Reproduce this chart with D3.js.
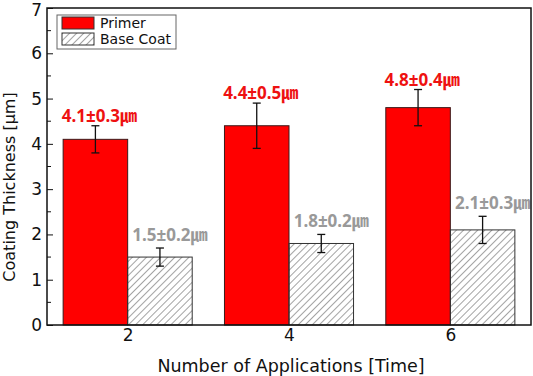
<!DOCTYPE html>
<html>
<head>
<meta charset="utf-8">
<script src="https://cdn.jsdelivr.net/npm/d3@7"></script>
<style>
  body { margin: 0; background: #fff; }
  svg { display: block; }
</style>
</head>
<body>
<svg id="chart" width="533" height="376"></svg>
<script>
// data
const applications = [2, 4, 6];
const primerValues = [4.1, 4.4, 4.8];
const primerErrors = [0.3, 0.5, 0.4];
const baseValues = [1.5, 1.8, 2.1];
const baseErrors = [0.2, 0.2, 0.3];
const yTicks = [0, 1, 2, 3, 4, 5, 6, 7];
const seriesNames = ["Primer", "Base Coat"];

const svg = d3.select("#chart");
const plotLeft = 47, plotRight = 531, plotTop = 8, plotBottom = 325;

const x = d3.scaleLinear().domain([1, 7]).range([plotLeft, plotRight]);
const y = d3.scaleLinear().domain([0, 7]).range([plotBottom, plotTop]);
const barW = x(0.8) - x(0);

// hatch pattern
const defs = svg.append("defs");
defs.append("pattern")
  .attr("id", "hatch")
  .attr("patternUnits", "userSpaceOnUse")
  .attr("width", 5)
  .attr("height", 5)
  .attr("patternTransform", "rotate(45)")
  .append("line")
  .attr("x1", 0).attr("y1", 0)
  .attr("x2", 0).attr("y2", 5)
  .attr("stroke", "#333")
  .attr("stroke-width", 0.9);

const fontMain = "'DejaVu Sans', sans-serif";
const fontLabel = "'Noto Sans', 'Noto Sans CJK KR', sans-serif";

const primer = applications.map((a, i) => ({ a: a, v: primerValues[i], e: primerErrors[i] }));
const base = applications.map((a, i) => ({ a: a, v: baseValues[i], e: baseErrors[i] }));

// primer bars
svg.selectAll(".barPrimer").data(primer).enter()
  .append("rect")
  .attr("class", "barPrimer")
  .attr("x", d => x(d.a) - barW)
  .attr("y", d => y(d.v))
  .attr("width", barW)
  .attr("height", d => y(0) - y(d.v))
  .attr("fill", "#ff0000")
  .attr("stroke", "#3a1a1a")
  .attr("stroke-width", 1);

// base coat bars
svg.selectAll(".barBase").data(base).enter()
  .append("rect")
  .attr("class", "barBase")
  .attr("x", d => x(d.a))
  .attr("y", d => y(d.v))
  .attr("width", barW)
  .attr("height", d => y(0) - y(d.v))
  .attr("fill", "url(#hatch)")
  .attr("stroke", "#333")
  .attr("stroke-width", 1);

// error bars
function errorBars(data, cx, cls) {
  const g = svg.selectAll("." + cls).data(data).enter()
    .append("g").attr("class", cls)
    .attr("stroke", "#111").attr("stroke-width", 1.3);
  g.append("line")
    .attr("x1", cx).attr("x2", cx)
    .attr("y1", d => y(d.v - d.e)).attr("y2", d => y(d.v + d.e));
  g.append("line")
    .attr("x1", d => cx(d) - 4).attr("x2", d => cx(d) + 4)
    .attr("y1", d => y(d.v + d.e)).attr("y2", d => y(d.v + d.e));
  g.append("line")
    .attr("x1", d => cx(d) - 4).attr("x2", d => cx(d) + 4)
    .attr("y1", d => y(d.v - d.e)).attr("y2", d => y(d.v - d.e));
}
errorBars(primer, d => x(d.a) - barW / 2, "errPrimer");
errorBars(base, d => x(d.a) + barW / 2, "errBase");

// value labels
svg.selectAll(".lblPrimer").data(primer).enter()
  .append("text")
  .attr("class", "lblPrimer")
  .attr("x", d => x(d.a) - barW / 2 + 4)
  .attr("y", d => y(d.v + d.e) - 4)
  .attr("text-anchor", "middle")
  .attr("font-family", fontLabel)
  .attr("font-weight", "bold")
  .attr("font-size", "17px")
  .attr("fill", "#ee1111")
  .text(d => d.v.toFixed(1) + "±" + d.e.toFixed(1) + "㎛");

svg.selectAll(".lblBase").data(base).enter()
  .append("text")
  .attr("class", "lblBase")
  .attr("x", d => x(d.a) + barW / 2 + 10)
  .attr("y", d => y(d.v + d.e) - 7)
  .attr("text-anchor", "middle")
  .attr("font-family", fontLabel)
  .attr("font-weight", "bold")
  .attr("font-size", "17px")
  .attr("fill", "#999999")
  .text(d => d.v.toFixed(1) + "±" + d.e.toFixed(1) + "㎛");

// frame
svg.append("rect")
  .attr("x", plotLeft).attr("y", plotTop)
  .attr("width", plotRight - plotLeft).attr("height", plotBottom - plotTop)
  .attr("fill", "none")
  .attr("stroke", "#111")
  .attr("stroke-width", 1.5);

// y axis (ticks inward)
const yAxis = d3.axisLeft(y).tickValues(yTicks).tickSize(-6).tickPadding(5).tickFormat(d3.format("d"));
const gy = svg.append("g").attr("transform", "translate(" + plotLeft + ",0)").call(yAxis);
gy.select(".domain").remove();
gy.selectAll("text").attr("font-family", fontMain).attr("font-size", "17px").attr("fill", "#111");
gy.selectAll("line").attr("stroke", "#111");
// top label sits at the edge, nudge it so it stays inside
gy.selectAll("text").filter(d => d === 7).attr("dy", "0.42em");
// minor ticks
const minor = d3.range(0.5, 7, 1);
svg.selectAll(".minorY").data(minor).enter()
  .append("line")
  .attr("x1", plotLeft).attr("x2", plotLeft + 4)
  .attr("y1", d => y(d)).attr("y2", d => y(d))
  .attr("stroke", "#111");

// x axis
const xAxis = d3.axisBottom(x).tickValues(applications).tickSize(0).tickPadding(4).tickFormat(d3.format("d"));
const gx = svg.append("g").attr("transform", "translate(0," + plotBottom + ")").call(xAxis);
gx.select(".domain").remove();
gx.selectAll("text").attr("font-family", fontMain).attr("font-size", "17px").attr("fill", "#111");

// axis titles
svg.append("text")
  .attr("x", 291)
  .attr("y", 372)
  .attr("text-anchor", "middle")
  .attr("font-family", fontMain)
  .attr("font-size", "17.5px")
  .attr("fill", "#111")
  .text("Number of Applications [Time]");

svg.append("text")
  .attr("transform", "translate(15,187) rotate(-90)")
  .attr("text-anchor", "middle")
  .attr("font-family", fontMain)
  .attr("font-size", "16px")
  .attr("fill", "#111")
  .text("Coating Thickness [μm]");

// legend
const lg = svg.append("g").attr("transform", "translate(57,15)");
lg.append("rect")
  .attr("width", 119).attr("height", 34)
  .attr("fill", "#fff").attr("stroke", "#666").attr("stroke-width", 1);
const items = lg.selectAll(".leg").data(seriesNames).enter()
  .append("g").attr("class", "leg")
  .attr("transform", (d, i) => "translate(5," + (2 + i * 16) + ")");
items.append("rect")
  .attr("width", 32).attr("height", 12)
  .attr("fill", (d, i) => i === 0 ? "#ff0000" : "url(#hatch)")
  .attr("stroke", "#333");
items.append("text")
  .attr("x", 38).attr("y", 11)
  .attr("font-family", fontMain)
  .attr("font-size", "14px")
  .attr("fill", "#111")
  .text(d => d);
</script>
</body>
</html>
